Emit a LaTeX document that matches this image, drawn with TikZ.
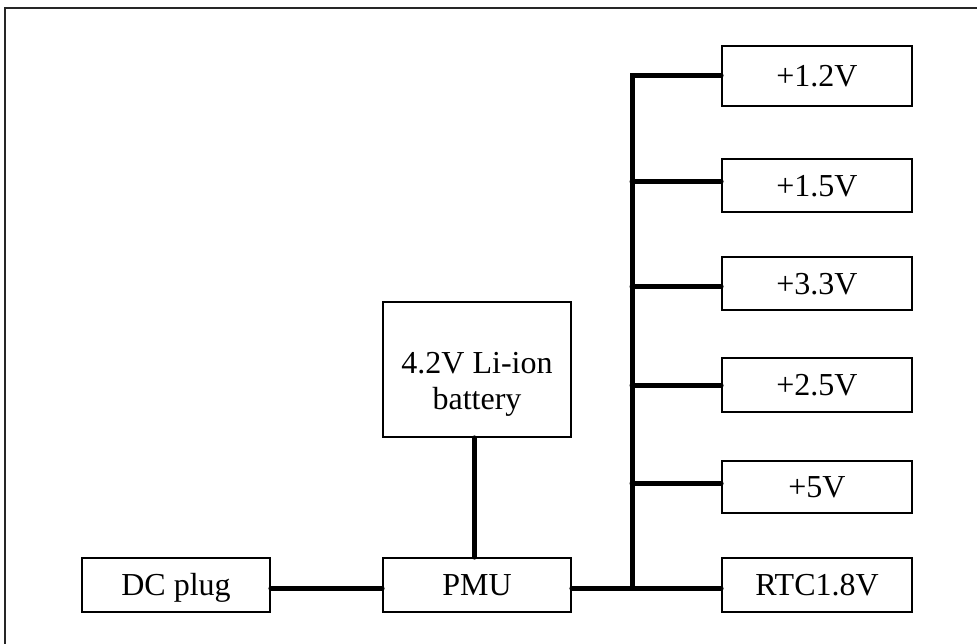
\documentclass[tikz,border=0pt]{standalone}
\usepackage{fontspec}
\setmainfont{Liberation Serif}
\begin{document}
\begin{tikzpicture}[x=1pt,y=-1pt,
  box/.style={draw=black,line width=1.8pt,rectangle,inner sep=0pt,
    font=\fontsize{32}{36}\selectfont},
  onebox/.style={box,text height=21.5pt,text depth=0pt},
  wire/.style={line width=5pt,line cap=round,line join=miter}]
\useasboundingbox (0,0) rectangle (977,644);
\draw[line width=2pt,draw=black!85] (5,660) -- (5,8) -- (990,8);
% left side
\node[onebox,minimum width=188pt,minimum height=54pt] (dc) at (176,585) {DC plug};
\node[onebox,minimum width=188pt,minimum height=54pt] (pmu) at (477,585) {PMU};
\node[box,minimum width=188pt,minimum height=135pt] (bat) at (477,369.5)
  {\raisebox{-21pt}[0pt][0pt]{\begin{tabular}{@{}c@{}}4.2V Li-ion\\battery\end{tabular}}};
% right side
\node[onebox,minimum width=190pt,minimum height=60pt] (v1) at (817,76) {+1.2V};
\node[onebox,minimum width=190pt,minimum height=53pt] (v2) at (817,185.5) {+1.5V};
\node[onebox,minimum width=190pt,minimum height=53pt] (v3) at (817,283.5) {+3.3V};
\node[onebox,minimum width=190pt,minimum height=54pt] (v4) at (817,385) {+2.5V};
\node[onebox,minimum width=190pt,minimum height=52pt] (v5) at (817,487) {+5V};
\node[onebox,minimum width=190pt,minimum height=54pt] (v6) at (817,585) {RTC1.8V};
% bus junctions
\coordinate (j1) at (632,76);
\coordinate (j2) at (632,182);
\coordinate (j3) at (632,287);
\coordinate (j4) at (632,385);
\coordinate (j5) at (632,483);
\coordinate (j6) at (632,588);
% wires
\draw[wire] (v1.west |- j1) -- (j1) -- (j6);
\draw[wire] (j2) -- (v2.west |- j2);
\draw[wire] (j3) -- (v3.west |- j3);
\draw[wire] (j4) -- (v4.west |- j4);
\draw[wire] (j5) -- (v5.west |- j5);
\draw[wire] (pmu.east |- j6) -- (v6.west |- j6);
\draw[wire] (dc.east |- j6) -- (pmu.west |- j6);
\draw[wire] ([xshift=-3pt]bat.south) -- ([xshift=-3pt]pmu.north);
\end{tikzpicture}
\end{document}
